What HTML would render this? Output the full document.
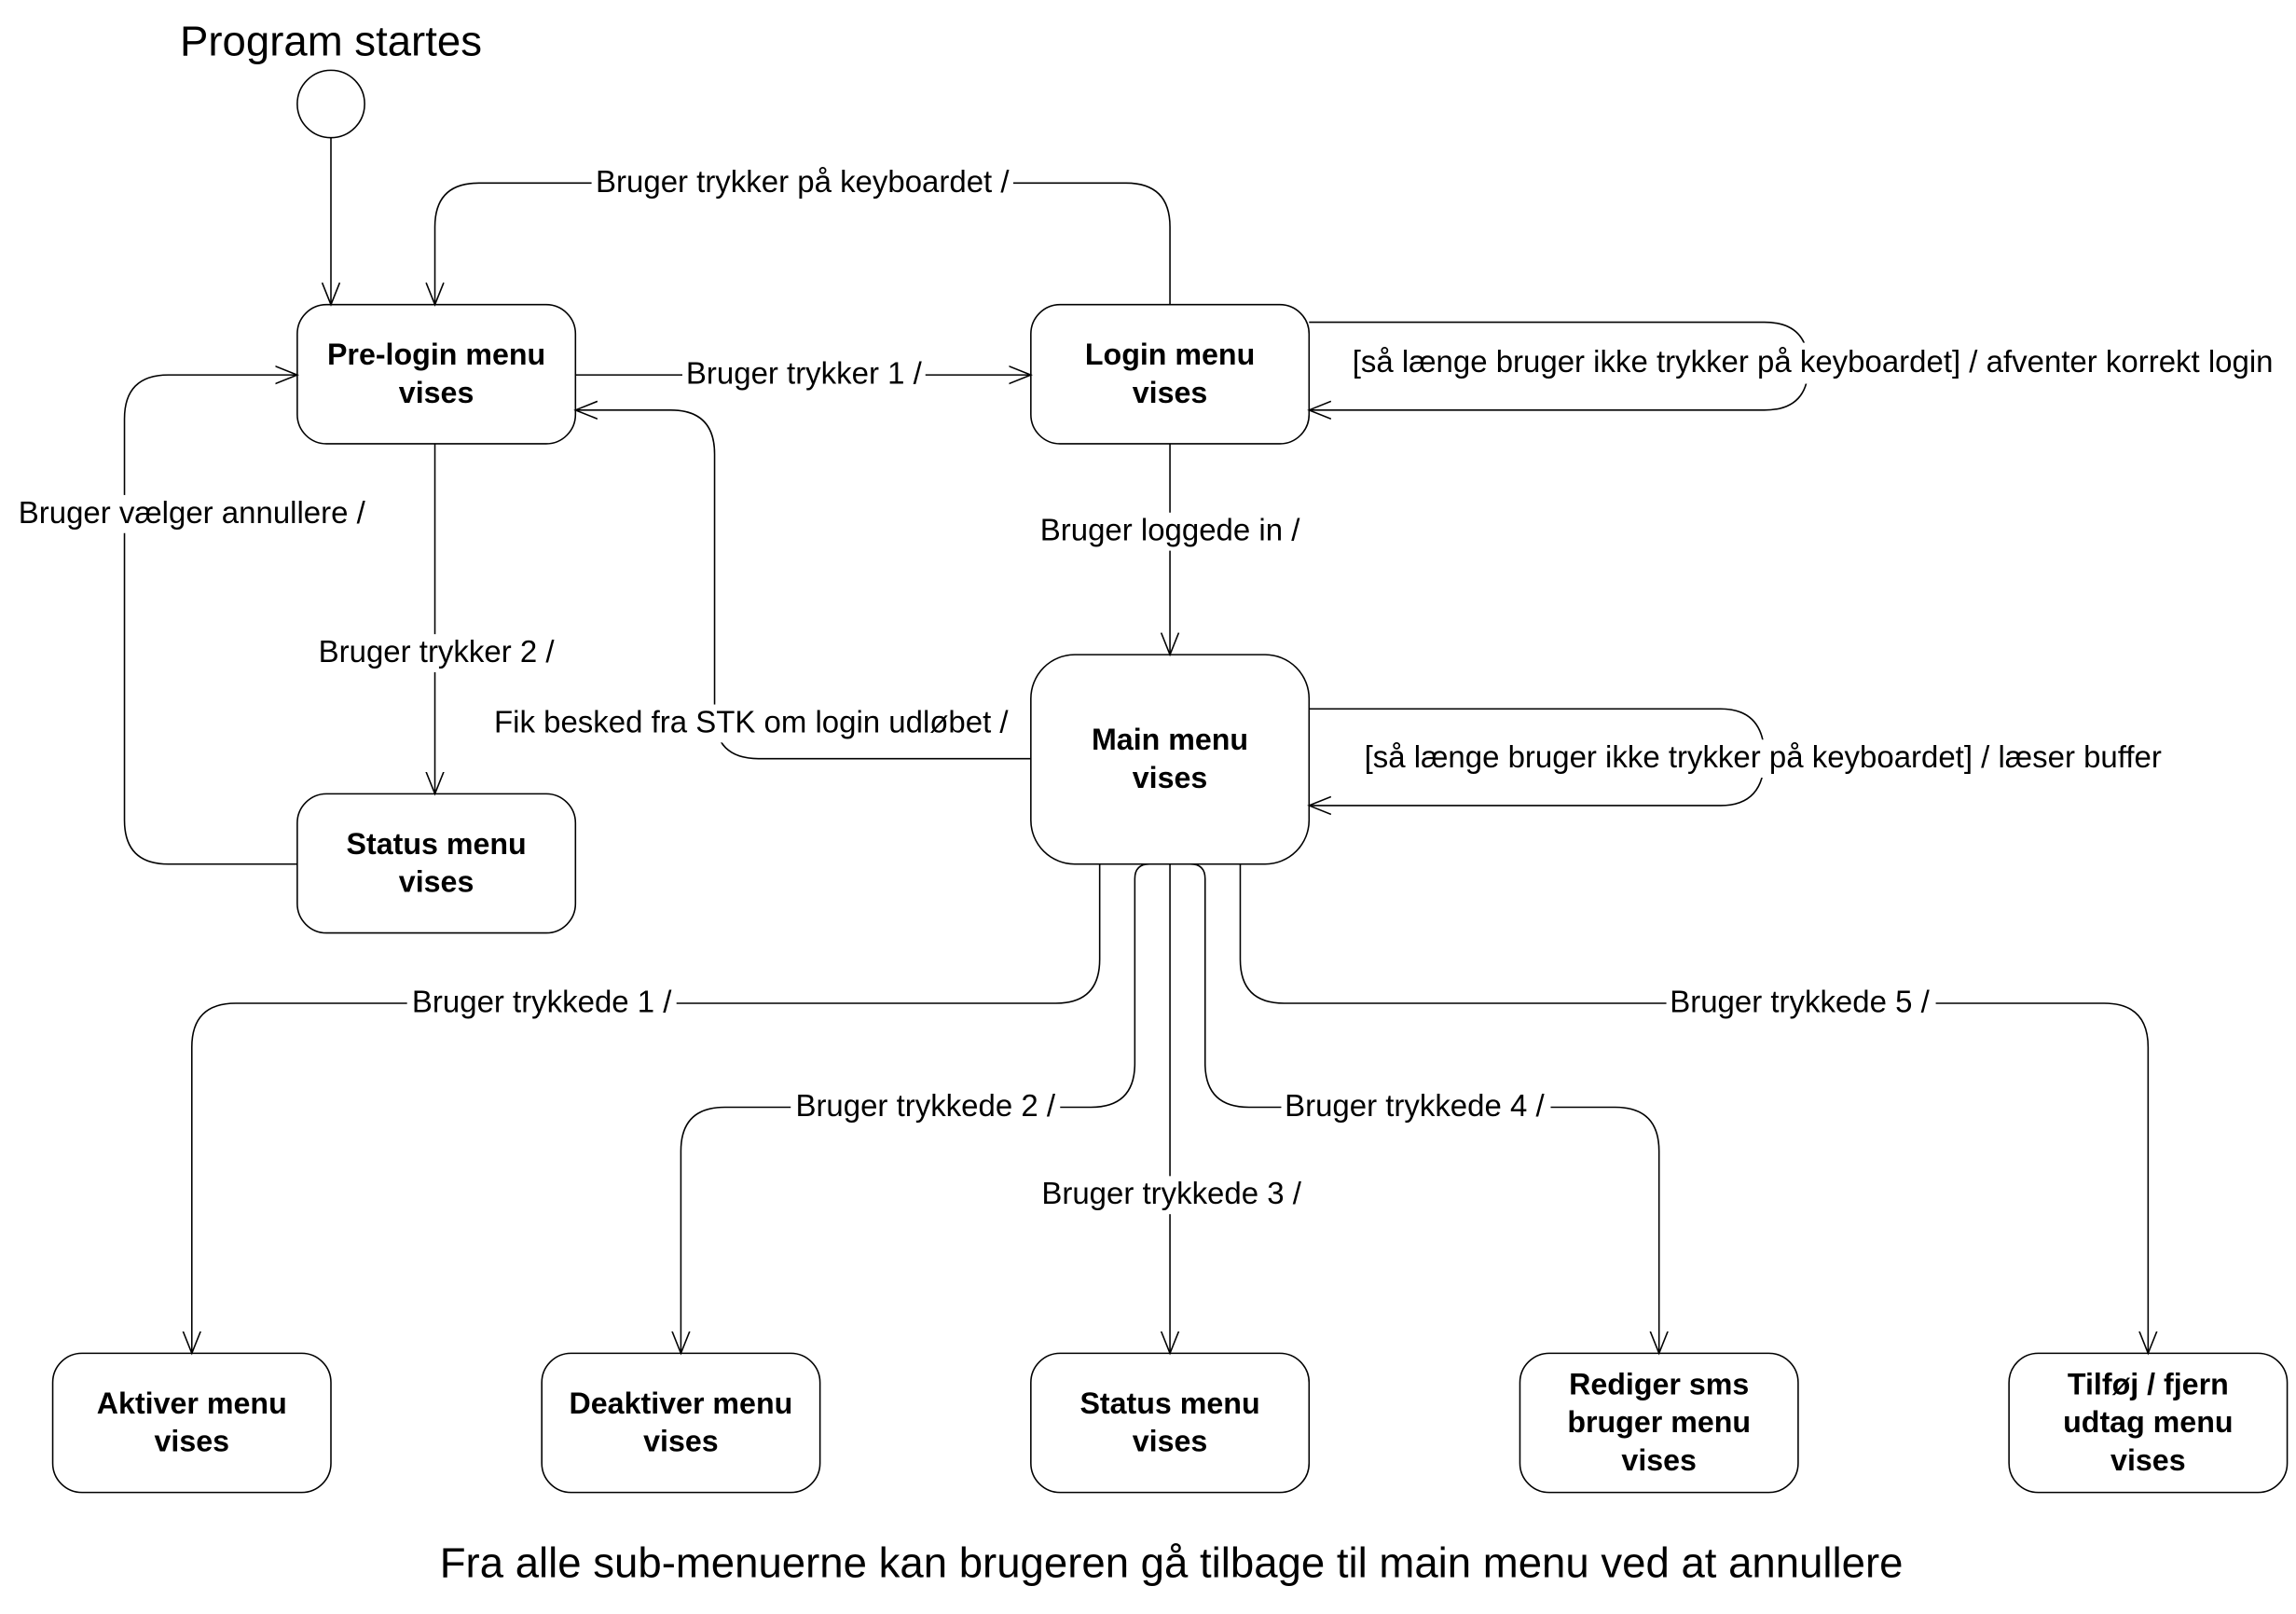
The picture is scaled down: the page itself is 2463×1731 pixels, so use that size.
<!DOCTYPE html>
<html><head><meta charset="utf-8"><style>
html,body{margin:0;padding:0;background:#fff;}
svg{display:block;}
text{font-family:"Liberation Sans",sans-serif;}
.b{font-weight:bold;font-size:20.5px;text-anchor:middle;}
.l{font-size:21px;text-anchor:middle;}
.bg{fill:#fff;}
</style></head><body>
<svg width="2463" height="1731" viewBox="0 0 1568 1102" xmlns="http://www.w3.org/2000/svg">
<defs>
<marker id="a" markerWidth="20" markerHeight="20" refX="15" refY="10" orient="auto" markerUnits="userSpaceOnUse">
<path d="M0,4 L15,10 L0,16" fill="none" stroke="#000" stroke-width="1"/>
</marker>
</defs>
<g fill="none" stroke="#000" stroke-width="1">
<circle cx="226" cy="71" r="23"/>
<path d="M226,94 V208" marker-end="url(#a)"/>
<rect x="203" y="208" width="190" height="95" rx="20"/>
<rect x="704" y="208" width="190" height="95" rx="20"/>
<rect x="704" y="447" width="190" height="143" rx="30"/>
<rect x="203" y="542" width="190" height="95" rx="20"/>
<rect x="36" y="924" width="190" height="95" rx="20"/>
<rect x="370" y="924" width="190" height="95" rx="20"/>
<rect x="704" y="924" width="190" height="95" rx="20"/>
<rect x="1038" y="924" width="190" height="95" rx="20"/>
<rect x="1372" y="924" width="190" height="95" rx="20"/>
<path d="M799,208 V155 Q799,125 769,125 H327 Q297,125 297,155 V208" marker-end="url(#a)"/>
<path d="M393,256 H704" marker-end="url(#a)"/>
<path d="M894,220 H1205 Q1235,220 1235,250 Q1235,280 1205,280 H894" marker-end="url(#a)"/>
<path d="M799,303 V447" marker-end="url(#a)"/>
<path d="M297,303 V542" marker-end="url(#a)"/>
<path d="M203,590 H115 Q85,590 85,560 V286 Q85,256 115,256 H203" marker-end="url(#a)"/>
<path d="M704,518 H518 Q488,518 488,488 V310 Q488,280 458,280 H393" marker-end="url(#a)"/>
<path d="M894,484 H1175 Q1205,484 1205,517 Q1205,550 1175,550 H894" marker-end="url(#a)"/>
<path d="M751,590 V655 Q751,685 721,685 H161 Q131,685 131,715 V924" marker-end="url(#a)"/>
<path d="M799,590 H785 Q775,590 775,600 V726 Q775,756 745,756 H495 Q465,756 465,786 V924" marker-end="url(#a)"/>
<path d="M799,590 V924" marker-end="url(#a)"/>
<path d="M799,590 H813 Q823,590 823,600 V726 Q823,756 853,756 H1103 Q1133,756 1133,786 V924" marker-end="url(#a)"/>
<path d="M847,590 V655 Q847,685 877,685 H1437 Q1467,685 1467,715 V924" marker-end="url(#a)"/>
</g>
<rect class="bg" x="404" y="112" width="288" height="26"/>
<rect class="bg" x="466" y="243" width="166" height="26"/>
<rect class="bg" x="918" y="234" width="640" height="28"/>
<rect class="bg" x="708" y="350" width="182" height="26"/>
<rect class="bg" x="215" y="433" width="167" height="26"/>
<rect class="bg" x="10" y="338" width="242" height="26"/>
<rect class="bg" x="331" y="481" width="365" height="26"/>
<rect class="bg" x="926" y="505" width="556" height="26"/>
<rect class="bg" x="278" y="672" width="184" height="26"/>
<rect class="bg" x="540" y="743" width="184" height="26"/>
<rect class="bg" x="708" y="803" width="184" height="26"/>
<rect class="bg" x="875" y="743" width="184" height="26"/>
<rect class="bg" x="1138" y="672" width="184" height="26"/>
<text x="226" y="38" style="font-size:29px;text-anchor:middle">Program startes</text>
<text class="b" x="298" y="249">Pre-login menu</text><text class="b" x="298" y="275">vises</text>
<text class="b" x="799" y="249">Login menu</text><text class="b" x="799" y="275">vises</text>
<text class="b" x="799" y="512">Main menu</text><text class="b" x="799" y="538">vises</text>
<text class="b" x="298" y="583">Status menu</text><text class="b" x="298" y="609">vises</text>
<text class="b" x="131" y="965">Aktiver menu</text><text class="b" x="131" y="991">vises</text>
<text class="b" x="465" y="965">Deaktiver menu</text><text class="b" x="465" y="991">vises</text>
<text class="b" x="799" y="965">Status menu</text><text class="b" x="799" y="991">vises</text>
<text class="b" x="1133" y="952">Rediger sms</text><text class="b" x="1133" y="978">bruger menu</text><text class="b" x="1133" y="1004">vises</text>
<text class="b" x="1467" y="952">Tilføj / fjern</text><text class="b" x="1467" y="978">udtag menu</text><text class="b" x="1467" y="1004">vises</text>
<text class="l" x="548" y="131">Bruger trykker på keyboardet /</text>
<text class="l" x="549" y="262">Bruger trykker 1 /</text>
<text class="l" x="1238" y="254">[så længe bruger ikke trykker på keyboardet] / afventer korrekt login</text>
<text class="l" x="799" y="369">Bruger loggede in /</text>
<text class="l" x="298" y="452">Bruger trykker 2 /</text>
<text class="l" x="131" y="357">Bruger vælger annullere /</text>
<text class="l" x="513" y="500">Fik besked fra STK om login udløbet  /</text>
<text class="l" x="1204" y="524">[så længe bruger ikke trykker på keyboardet] / læser buffer</text>
<text class="l" x="370" y="691">Bruger trykkede 1 /</text>
<text class="l" x="632" y="762">Bruger trykkede 2 /</text>
<text class="l" x="800" y="822">Bruger trykkede 3 /</text>
<text class="l" x="966" y="762">Bruger trykkede 4 /</text>
<text class="l" x="1229" y="691">Bruger trykkede 5 /</text>
<text x="800" y="1077" style="font-size:29px;text-anchor:middle">Fra alle sub-menuerne kan brugeren gå tilbage til main menu ved at annullere</text>
</svg>
</body></html>
